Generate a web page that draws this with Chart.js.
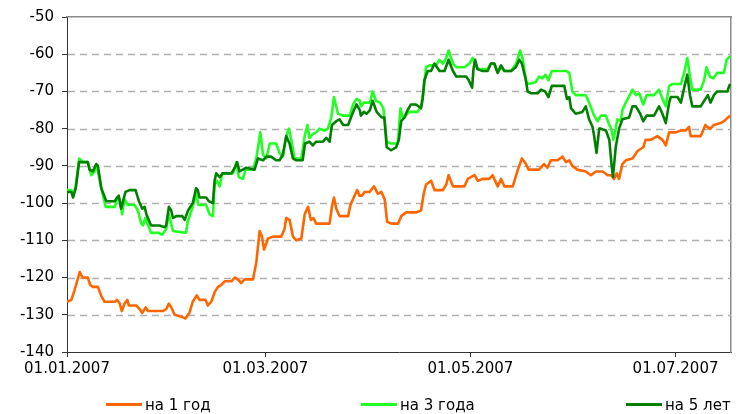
<!DOCTYPE html>
<html>
<head>
<meta charset="utf-8">
<script src="https://cdn.jsdelivr.net/npm/chart.js@4/dist/chart.umd.min.js"></script>
<style>
  body { margin: 0; background: #fff; }
  #wrap { position: relative; width: 747px; height: 414px; }
  #legend { position: absolute; left: 0; top: 395px; width: 747px; height: 19px; font: 15px "DejaVu Sans", sans-serif; color: #000; }
  #legend .item { position: absolute; top: 0; display: flex; align-items: center; height: 19px; white-space: nowrap; }
  #legend .line { display: inline-block; width: 36px; height: 3px; margin-right: 3px; }
</style>
</head>
<body>
<div id="wrap">
  <canvas id="rates" width="747" height="414"></canvas>
  <div id="legend"></div>
</div>
<script>
// days counted from 01.01.2007
const seriesNames = ['на 1 год', 'на 3 года', 'на 5 лет'];
const seriesColors = ['#ff6600', '#22ff22', '#008000'];
const tickLabels = ['01.01.2007', '01.03.2007', '01.05.2007', '01.07.2007'];

const year1Days = [0, 1.3, 2.2, 3, 3.8, 4.6, 6.2, 6.9, 7.7, 9.2, 10.2, 11.2, 14.2, 14.9, 15.7, 16.3, 17.1, 17.9, 18.4, 20.6, 21.6, 22.4, 23.4, 24.1, 25, 28.5, 29.5, 30.3, 31, 32, 34, 35.2, 36.4, 37.4, 38.6, 39.4, 41.2, 41.9, 42.9, 43.9, 44.9, 45.9, 46.9, 48.9, 49.9, 50.8, 51.8, 52.8, 55.3, 56.3, 57.3, 58, 58.6, 59.8, 61.3, 63.7, 64.7, 65.2, 66.2, 67.2, 68.2, 69.7, 70.7, 71.7, 72.5, 73.3, 74.1, 76.6, 78.1, 78.8, 79.4, 80.1, 81.1, 83.6, 84.3, 85.3, 86.3, 87, 87.7, 88.5, 90, 91.3, 92.5, 93.5, 94.5, 95.2, 96.5, 98.5, 99.4, 100.9, 103.8, 105.3, 106.1, 106.8, 108.3, 109.3, 111.8, 112.8, 113.5, 114.8, 118.2, 119.2, 121.2, 122.2, 123.6, 125.6, 126.6, 128.1, 129.1, 130.1, 132.6, 134.1, 135.3, 136.5, 137.3, 140.4, 141.9, 142.9, 143.9, 145.9, 147.4, 148.4, 149.4, 150.3, 151.8, 154.3, 155.8, 157.3, 159.3, 160.8, 161.9, 162.7, 163.5, 164.2, 165.2, 166.2, 168.2, 169.7, 171.4, 172.1, 173.6, 175.6, 177.1, 178.1, 179.1, 181.1, 182.6, 184, 185, 185.5, 188.5, 189.9, 190.4, 191.4, 192.4, 194.4, 195.4, 197.2];
const year1Vals = [-126.5, -126, -123.5, -121, -118.5, -120, -120, -122, -122.5, -122.5, -125, -126.5, -126.5, -126, -127, -129, -127, -126, -127.5, -127.5, -128.5, -129.5, -128, -129, -129, -129, -128.5, -127, -128, -130, -130.5, -131, -129.5, -126.5, -124.8, -126, -126, -127.5, -126.5, -124, -122.5, -122, -121, -121, -120, -120.5, -121.5, -120.5, -120.5, -116, -107.5, -109, -112.5, -109.5, -109, -109, -107, -104, -104.5, -109, -110, -109.5, -103, -101, -104.5, -104, -105.5, -105.5, -105.5, -101, -98.5, -101.5, -103.5, -103.5, -100.5, -98.5, -96.5, -98, -98, -97, -97, -95.5, -97.5, -97, -99, -105, -105.5, -105.5, -103.5, -102.5, -102.5, -102, -97.5, -95, -94, -96.5, -96.5, -95, -92.5, -95.5, -95.5, -93.5, -92.5, -94, -93.5, -93.5, -92.5, -95.5, -93.5, -95.5, -95.5, -91, -88, -89.5, -91, -91, -89.5, -90.5, -88.5, -88.5, -87.5, -89, -88.5, -90, -91, -91.5, -92.5, -91.5, -91.5, -92.5, -92.5, -93.5, -92, -93.5, -89.5, -88.5, -88, -86, -85, -83, -83, -82, -83, -84.5, -81, -81, -80.5, -80.5, -79.5, -82, -82, -79, -79.5, -80, -79, -78.5, -78, -76.5];

const year3Days = [0, 1.3, 1.8, 2.6, 3.6, 4.8, 6.2, 7.2, 8.2, 8.9, 10.2, 11.5, 14.2, 14.9, 15.7, 16.4, 17.1, 18.1, 20.1, 21.1, 22.1, 22.6, 23.3, 25, 27.3, 28.3, 29.5, 30.3, 31.5, 35.4, 35.9, 37.4, 38.4, 39.1, 41.4, 42.4, 43.4, 43.9, 44.6, 45.4, 46.2, 49.4, 50.4, 51.1, 52.3, 53.1, 55.3, 56.3, 57.5, 58.3, 59.3, 60.3, 62.2, 63.2, 64.2, 65.2, 66, 66.7, 67.7, 69.7, 70.7, 71.5, 72.1, 73.1, 74.1, 75.1, 76.6, 77.6, 78.6, 79.4, 80.6, 82.1, 84.1, 85.1, 86.1, 87.1, 87.4, 88.3, 90.1, 90.9, 91.9, 93.1, 94.1, 95.1, 96.4, 98.4, 99.2, 99.9, 101.8, 104.3, 105.3, 106, 106.8, 107.8, 109.8, 110.8, 111.8, 112.8, 113.5, 114.8, 115.8, 118.2, 119.7, 120.7, 121.4, 122.1, 125.1, 126.1, 127.1, 128.1, 129.1, 130.1, 132.1, 133.6, 134.8, 135.5, 136.6, 137.2, 139.4, 140.4, 141.4, 142.3, 143.2, 144.2, 148.4, 149.4, 150.3, 151.3, 154.3, 155.3, 156.8, 157.8, 158.8, 160.3, 161.3, 161.9, 162.5, 163.2, 163.7, 164.7, 165.2, 166.2, 168.2, 169.2, 170.2, 171.4, 172.4, 174.6, 176.1, 177.1, 178.1, 179.1, 180.1, 182.6, 183.7, 184.5, 185.3, 186, 188.5, 189.5, 190.2, 191.2, 192.2, 193.4, 195.4, 196.2, 197.2];
const year3Vals = [-96.5, -96.5, -98, -95.5, -88, -89, -89, -92.5, -91.5, -90, -96, -101, -101, -99, -99, -103, -99, -100.5, -100.5, -102, -105.5, -106, -104, -108, -108, -108.5, -107, -103, -107.5, -108, -105, -101, -97.5, -100.5, -100.5, -103, -103.5, -95, -94, -95.5, -92, -92, -89, -93, -93.5, -91, -91, -88, -81, -87, -88, -84, -84, -86.5, -87.5, -82, -80, -83, -88, -88, -82, -79, -82.5, -81.5, -81, -80, -80.5, -80, -77, -71.5, -76, -76.5, -76.5, -73.5, -72, -72.5, -74, -73, -73, -70, -72.5, -73, -74.5, -83.5, -84, -84, -74.5, -77, -75.5, -75.5, -74, -70, -63.5, -63, -63, -61.5, -62.5, -61, -59, -62.5, -63.5, -63.5, -62.5, -61, -62.5, -64, -64, -62.5, -62.5, -65, -63.5, -64.5, -64.5, -62.5, -59, -61, -67.5, -68, -67.5, -66, -66.5, -65.5, -67, -64.5, -64.5, -65, -70, -71, -71, -73, -76.5, -78, -76.5, -76.5, -79, -80, -83, -80, -77.5, -78, -75, -73, -69.5, -71, -70.5, -73.5, -71, -71, -69.5, -72, -74, -68.5, -68, -68, -64.5, -61, -66, -69.5, -69.5, -67, -63.5, -66, -66.5, -65, -65, -61.5, -60.5];

const year5Days = [0, 1.3, 1.8, 2.6, 3.6, 4.8, 6.2, 6.7, 7.7, 8.7, 9.2, 10.2, 11.7, 14.2, 14.9, 15.4, 16.1, 17.4, 18.6, 20.4, 21.4, 22.4, 23.1, 23.6, 25, 27.5, 29, 29.5, 30.3, 31, 31.5, 32.5, 34.3, 35, 36, 37.4, 38.4, 38.9, 39.4, 41.4, 42.2, 43.4, 43.9, 44.4, 45.4, 46.3, 48.9, 49.9, 50.6, 51.3, 52.3, 53.3, 55.8, 56.8, 58.3, 59.3, 60.7, 62.2, 63.2, 64.2, 65.2, 66.2, 67.2, 68.2, 70.1, 70.8, 72.1, 73.1, 74.1, 76.1, 77.1, 78.1, 78.8, 80.1, 81.1, 82.1, 83.6, 85.1, 86.1, 87.1, 87.4, 88.3, 89.1, 90.1, 90.9, 92.1, 93.6, 94.4, 95.1, 96.4, 97.9, 98.7, 99.4, 100.4, 101.3, 102.3, 103.8, 105.3, 105.8, 106.3, 107.3, 108.3, 109.3, 110.8, 112.3, 113.5, 114.8, 115.8, 118.7, 119.5, 120.5, 120.9, 121.4, 122.1, 123.6, 125.1, 126.1, 127.1, 128.1, 129.1, 130.1, 132.1, 133.5, 134.5, 135.3, 136.5, 137, 138, 140, 141, 142.2, 143.2, 144.2, 147.9, 148.7, 149.4, 149.9, 151.3, 153.3, 154.3, 155.3, 156.3, 156.8, 157.5, 158.3, 158.8, 160.3, 161.3, 161.9, 162.4, 163.2, 164.2, 165.2, 167.2, 168.2, 169.2, 170.5, 171.4, 172.4, 174.6, 176.1, 177.1, 178.1, 179.1, 179.6, 181.6, 182.6, 183.7, 184.5, 185.3, 186, 188.5, 189.9, 190.6, 191.4, 192.4, 193.4, 196.4, 197.2];
const year5Vals = [-97, -97, -98.5, -96, -89, -89, -89, -91, -91.5, -89.5, -90, -96, -99.5, -99.5, -98.5, -98, -101.5, -97, -96.5, -96.5, -99.5, -101.5, -101, -103, -106, -106, -106.5, -106, -101, -102, -104, -103.5, -103.5, -104.5, -102, -100, -96, -96.5, -98.5, -98.5, -99.5, -100, -94, -92, -93, -92, -92, -90.5, -89, -91.5, -91, -90.5, -91, -88, -88.5, -87.5, -87.5, -88.5, -88.5, -87, -82, -84, -88, -88.5, -88.5, -84, -83.5, -84.5, -83.5, -83.5, -82.5, -83.5, -79, -78, -77.5, -79, -79, -75.5, -73.5, -75, -76.5, -75.5, -76, -75, -72.5, -75.5, -77, -77, -85, -85.8, -85, -83, -78, -77, -75, -73.5, -73.5, -74.5, -72, -67, -64.5, -64.5, -62.5, -64.5, -64.5, -61.5, -64.5, -66, -66, -67, -69, -64, -61.5, -64, -64.5, -64.5, -62.5, -62.5, -65, -63, -64.5, -64.5, -63.5, -61.5, -62.5, -67, -70, -70.5, -70.5, -69.5, -70, -71.5, -68.5, -68.5, -72, -71.5, -74.5, -76, -75.5, -74, -77.5, -79.5, -82, -86.5, -80, -80, -80.5, -83, -89, -93, -85, -80, -77.5, -77, -74, -74, -76, -78, -76.5, -76.5, -74, -76, -78.5, -73, -71.5, -71.5, -73, -68.5, -65.5, -71, -74, -74, -72, -71, -73, -71, -70, -70, -68];

const dayOf = (label) => {
  const [d, m, y] = label.split('.').map(Number);
  return (Date.UTC(y, m - 1, d) - Date.UTC(2007, 0, 1)) / 864e5;
};
const tickDays = tickLabels.map(dayOf);

const toPoints = (days, vals) => days.map((d, i) => ({ x: d, y: vals[i] }));

// dashed horizontal grid, like the spreadsheet plot area
const dashedGrid = {
  id: 'dashedGrid',
  beforeDatasetsDraw(chart) {
    const { ctx, chartArea: a } = chart;
    const y = chart.scales.y;
    ctx.save();
    ctx.lineWidth = 1.3;
    ctx.strokeStyle = '#b0b0b0';
    ctx.setLineDash([7, 5]);
    y.ticks.forEach(t => {
      if (t.value === y.min || t.value === y.max) return;
      const py = Math.round(y.getPixelForValue(t.value)) + 0.5;
      ctx.beginPath();
      ctx.moveTo(a.left + 1, py);
      ctx.lineTo(a.right, py);
      ctx.stroke();
    });
    ctx.restore();
  }
};

const font = { family: '"DejaVu Sans", sans-serif', size: 15 };

// bare axes used only as the grey frame on top and right
const frameAxis = {
  display: true,
  ticks: { display: false },
  grid: { drawOnChartArea: false, drawTicks: false },
  border: { display: true, color: '#8a8a8a', width: 1.5 }
};

const ratesChart = new Chart(document.getElementById('rates').getContext('2d'), {
  type: 'line',
  data: {
    datasets: [
      { label: seriesNames[0], data: toPoints(year1Days, year1Vals), borderColor: seriesColors[0], order: 2 },
      { label: seriesNames[1], data: toPoints(year3Days, year3Vals), borderColor: seriesColors[1], order: 1 },
      { label: seriesNames[2], data: toPoints(year5Days, year5Vals), borderColor: seriesColors[2], order: 0 },
    ]
  },
  options: {
    responsive: false,
    animation: false,
    layout: { padding: { left: 0, right: 16, top: 14, bottom: 24 } },
    elements: {
      line: { borderWidth: 2.6, tension: 0, borderJoinStyle: 'round' },
      point: { radius: 0 }
    },
    plugins: {
      legend: { display: false },
      tooltip: { enabled: false }
    },
    scales: {
      x: {
        type: 'linear',
        min: 0,
        max: 197.5,
        afterBuildTicks: (scale) => { scale.ticks = tickDays.map(v => ({ value: v })); },
        afterFit: (scale) => { scale.height = 38; },
        ticks: {
          color: '#000',
          font: font,
          padding: 3,
          maxRotation: 0,
          autoSkip: false,
          callback: (value) => tickLabels[tickDays.indexOf(value)]
        },
        grid: { drawOnChartArea: false, drawTicks: true, tickLength: 5, tickColor: '#333' },
        border: { display: true, color: '#333', width: 1 }
      },
      y: {
        min: -140,
        max: -50,
        afterFit: (scale) => { scale.width = 67; },
        ticks: { stepSize: 10, color: '#000', font: font, padding: 8 },
        grid: { drawOnChartArea: false, drawTicks: true, tickLength: 5, tickColor: '#333' },
        border: { display: true, color: '#333', width: 1 }
      },
      xTop: { ...frameAxis, type: 'linear', position: 'top', min: 0, max: 197.5, afterFit: (scale) => { scale.height = 0; } },
      yRight: { ...frameAxis, type: 'linear', position: 'right', min: -140, max: -50, afterFit: (scale) => { scale.width = 0; } }
    }
  },
  plugins: [dashedGrid]
});

// legend below the axis, same layout as the original spreadsheet chart
const legendLeft = [106, 361, 626];
const legend = document.getElementById('legend');
seriesNames.forEach((name, i) => {
  const item = document.createElement('div');
  item.className = 'item';
  item.style.left = legendLeft[i] + 'px';
  const line = document.createElement('span');
  line.className = 'line';
  line.style.background = seriesColors[i];
  item.appendChild(line);
  item.appendChild(document.createTextNode(name));
  legend.appendChild(item);
});
</script>
</body>
</html>
